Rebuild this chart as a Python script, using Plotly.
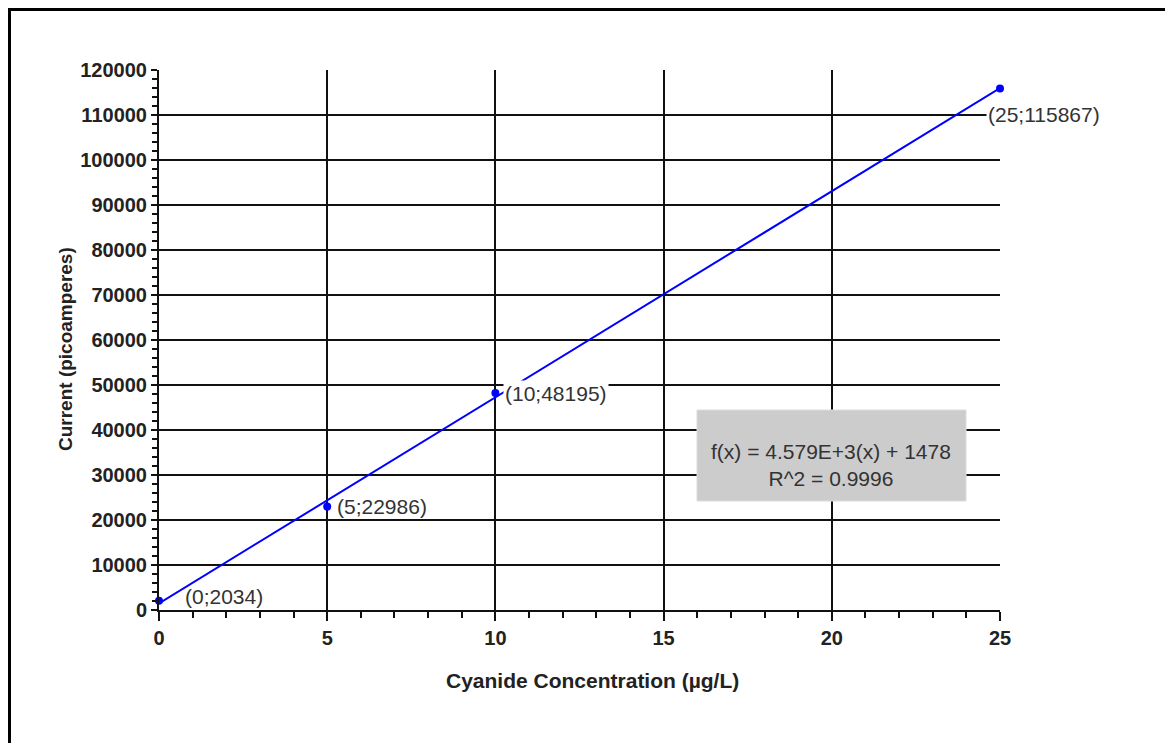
import numpy as np
import plotly.graph_objects as go

# Data
concentration = [0, 5, 10, 25]
current = [2034, 22986, 48195, 115867]
point_labels = ["(0;2034)", "(5;22986)", "(10;48195)", "(25;115867)"]
x_ticks = [0, 5, 10, 15, 20, 25]
y_ticks = [0, 10000, 20000, 30000, 40000, 50000, 60000, 70000, 80000, 90000,
           100000, 110000, 120000]
y_ticktext = [str(v) for v in y_ticks]
x_title = "Cyanide Concentration (µg/L)"
y_title = "Current (picoamperes)"

# Linear regression (trend line)
slope, intercept = np.polyfit(concentration, current, 1)
y_pred = np.polyval([slope, intercept], concentration)
r2 = 1 - np.sum((np.array(current) - y_pred) ** 2) / np.sum((np.array(current) - np.mean(current)) ** 2)
fit_x = [min(concentration), max(concentration)]
fit_y = [slope * v + intercept for v in fit_x]

OFF = 8  # page body margin
W, H = 1173, 743
L, T = 159 - OFF, 70 - OFF
pw, ph = 841, 540
R, B = W - L - pw, H - T - ph

def px(x):
    return (x - OFF - L) / pw

def py(y):
    return (T + ph + OFF - y) / ph

fig = go.Figure()
fig.add_trace(go.Scatter(x=fit_x, y=fit_y, mode="lines",
                         line=dict(color="#0000ff", width=2), hoverinfo="skip",
                         showlegend=False, cliponaxis=False))
fig.add_trace(go.Scatter(x=concentration, y=current, mode="markers",
                         marker=dict(color="#0000ff", size=8), showlegend=False,
                         cliponaxis=False))

font_lbl = dict(family="Liberation Sans", size=21, color="#333")

shifts = [(24, 4), (8, 0), (8, 0), (-14, -26)]
bgs = ["rgba(0,0,0,0)", "rgba(0,0,0,0)", "white", "white"]
for xv, yv, t, (xs, ys), bg in zip(concentration, current, point_labels, shifts, bgs):
    fig.add_annotation(x=xv, y=yv, text=t, showarrow=False, xanchor="left",
                       yanchor="middle", xshift=xs, yshift=ys, font=font_lbl,
                       bgcolor=bg, borderpad=1)

fig.add_shape(type="rect", xref="paper", yref="paper",
              x0=px(697), x1=px(966), y0=py(501), y1=py(410),
              fillcolor="#cccccc", line=dict(color="#dcdcdc", width=1), layer="above")
fig.add_annotation(xref="paper", yref="paper", x=px(831), y=py(465),
                   xanchor="center", yanchor="middle",
                   text=f"f(x) = {slope/1000:.3f}E+3(x) + {intercept:.0f}<br>R^2 = {r2:.4f}",
                   showarrow=False, font=dict(family="Liberation Sans", size=21, color="#333"),
                   align="center")

# axis titles
fig.add_annotation(xref="paper", yref="paper", x=px(592), y=py(680),
                   xanchor="center", yanchor="middle", showarrow=False,
                   text=f"<b>{x_title}</b>",
                   font=dict(family="Liberation Sans", size=21, color="#222"))
fig.add_annotation(xref="paper", yref="paper", x=px(66), y=py(349),
                   xanchor="center", yanchor="middle", showarrow=False, textangle=-90,
                   text=f"<b>{y_title}</b>",
                   font=dict(family="Liberation Sans", size=19, color="#222"))

# outer frame
fig.add_shape(type="rect", xref="paper", yref="paper",
              x0=px(9.5), x1=px(1190), y0=py(760), y1=py(9.5),
              line=dict(color="black", width=3), fillcolor="rgba(0,0,0,0)", layer="above")

fig.update_xaxes(range=[0, 25], tickvals=x_ticks, showgrid=True, gridcolor="#111",
                 gridwidth=2, showline=True, linecolor="#111", linewidth=2,
                 ticks="outside", ticklen=9, tickwidth=2, tickcolor="#111",
                 tickfont=dict(family="Liberation Sans", size=20, color="#222", weight="bold"),
                 minor=dict(dtick=1, ticks="outside", ticklen=6, tickwidth=2, tickcolor="#111"),
                 zeroline=False)
fig.update_yaxes(range=[0, 120000], tickvals=y_ticks, ticktext=y_ticktext,
                 showgrid=True, gridcolor="#111",
                 gridwidth=2, showline=True, linecolor="#111", linewidth=2,
                 ticks="outside", ticklen=6, tickwidth=2, tickcolor="#111",
                 tickfont=dict(family="Liberation Sans", size=20, color="#222", weight="bold"),
                 minor=dict(dtick=2000, ticks="outside", ticklen=5, tickwidth=2, tickcolor="#111"),
                 zeroline=False, mirror=False)

fig.update_layout(width=W, height=H, margin=dict(l=L, r=R, t=T, b=B),
                  paper_bgcolor="white", plot_bgcolor="white", showlegend=False)

fig.write_html("out.html")
